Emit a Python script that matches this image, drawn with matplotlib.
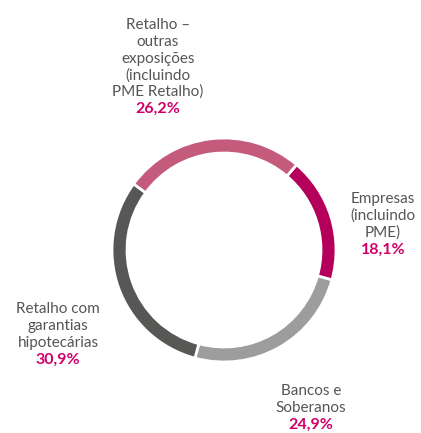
import matplotlib.pyplot as plt

# Exposições por segmento (%)
segmentos = [["Empresas", "(incluindo", "PME)"],
             ["Bancos e", "Soberanos"],
             ["Retalho com", "garantias", "hipotecárias"],
             ["Retalho –", "outras", "exposições", "(incluindo", "PME Retalho)"]]
valores = [18.1, 24.9, 30.9, 26.2]
valores_txt = ["18,1%", "24,9%", "30,9%", "26,2%"]
cores = ["#B5005B", "#9D9D9D", "#575756", "#C45A7C"]

# centro x e linha de base da primeira linha de cada rótulo (px)
pos_rotulos = [(383, 203), (311, 395), (58, 313), (158, 29)]

plt.rcParams["font.family"] = ["Lato", "DejaVu Sans"]

W, H = 421, 433
fig = plt.figure(figsize=(W / 100, H / 100), dpi=100)
ax = fig.add_axes([0, 0, 1, 1])

ax.pie(valores, colors=cores, startangle=49.6, counterclock=False,
       center=(224, H - 250), radius=112, frame=True,
       wedgeprops=dict(width=15, edgecolor="white", linewidth=2))
ax.set_xlim(0, W)
ax.set_ylim(0, H)
ax.set_aspect("equal")
ax.axis("off")

passo = 16.8
for linhas, txt, (x, y) in zip(segmentos, valores_txt, pos_rotulos):
    for i, l in enumerate(linhas):
        ax.text(x, H - (y + i * passo), l, ha="center", va="baseline",
                fontsize=11, color="#555555")
    ax.text(x, H - (y + len(linhas) * passo), txt, ha="center",
            va="baseline", fontsize=11.5, fontweight="bold", color="#D10069")

fig.savefig("out.png", dpi=100, facecolor="white")
